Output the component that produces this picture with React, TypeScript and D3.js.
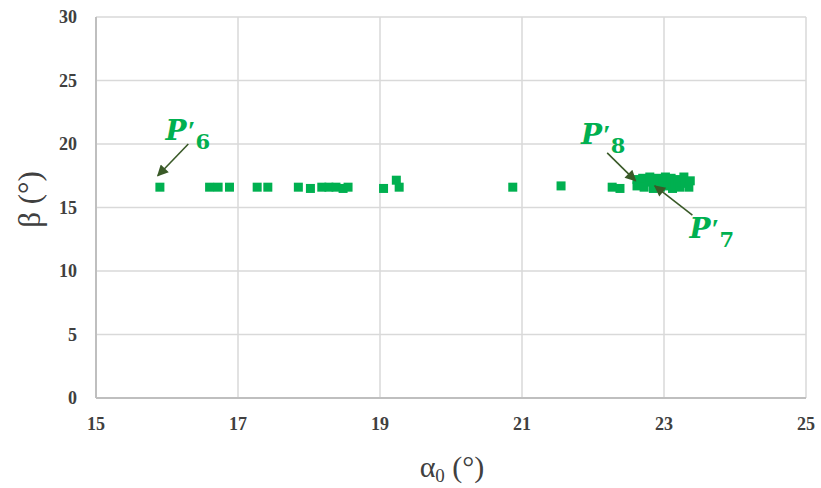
import React from "react";
import * as d3 from "d3";

const W = 821;
const H = 488;

const xTicks = [15, 17, 19, 21, 23, 25];
const yTicks = [0, 5, 10, 15, 20, 25, 30];

const alpha0 = [
  15.9, 16.6, 16.72, 16.88, 17.27, 17.42, 17.85, 18.02, 18.18, 18.28, 18.38, 18.48, 18.55,
  19.05, 19.23, 19.27, 20.87, 21.55, 22.27, 22.38,
  22.62, 22.62, 22.68, 22.7, 22.72, 22.78, 22.8, 22.85, 22.88, 22.92, 22.95, 22.98, 23.0,
  23.02, 23.05, 23.1, 23.12, 23.15, 23.2, 23.22, 23.25, 23.28, 23.3, 23.35, 23.37,
];
const beta = [
  16.6, 16.6, 16.6, 16.6, 16.6, 16.6, 16.6, 16.5, 16.6, 16.6, 16.6, 16.5, 16.6,
  16.5, 17.15, 16.6, 16.6, 16.7, 16.6, 16.5,
  17.2, 16.7, 16.9, 17.3, 16.6, 17.0, 17.4, 16.5, 16.9, 17.3, 16.6, 16.9, 17.1,
  17.4, 16.7, 17.3, 16.5, 16.9, 17.2, 16.6, 17.0, 17.4, 16.9, 16.6, 17.1,
];

type Ann = { name: string; sub: string; lx: number; ly: number; fx: number; fy: number; tx: number; ty: number };
const annotations: Ann[] = [
  { name: "P", sub: "6", lx: 15.98, ly: 20.3, fx: 16.3, fy: 20.0, tx: 15.87, ty: 17.5 },
  { name: "P", sub: "8", lx: 21.83, ly: 20.0, fx: 22.2, fy: 19.3, tx: 22.6, ty: 17.1 },
  { name: "P", sub: "7", lx: 23.36, ly: 12.6, fx: 23.4, fy: 14.4, tx: 22.87, ty: 16.7 },
];

const x = d3.scaleLinear().domain([15, 25]).range([96, 806]);
const y = d3.scaleLinear().domain([0, 30]).range([398, 17]);

const GREEN = "#00B050";
const ARROW = "#3A5A28";
const MS = 9;

export default function App() {
  const pts = alpha0.map((a, i) => ({ a, b: beta[i] }));
  return (
    <svg
      width={W}
      height={H}
      style={{ position: "absolute", left: 0, top: 0, background: "#fff" }}
    >
      <defs>
        <marker id="ah" viewBox="0 0 10 10" refX="9" refY="5" markerWidth="8" markerHeight="7" orient="auto">
          <path d="M0,0 L10,5 L0,10 z" fill={ARROW} />
        </marker>
      </defs>
      {yTicks.filter((t) => t > 0).map((t) => (
        <line key={"gy" + t} x1={x(15)} x2={x(25)} y1={y(t)} y2={y(t)} stroke="#d9d9d9" strokeWidth={1.5} />
      ))}
      {xTicks.filter((t) => t > 15).map((t) => (
        <line key={"gx" + t} x1={x(t)} x2={x(t)} y1={y(0)} y2={y(30)} stroke="#d9d9d9" strokeWidth={1.5} />
      ))}
      <line x1={x(15)} x2={x(15)} y1={y(0)} y2={y(30)} stroke="#bfbfbf" strokeWidth={2} />
      <line x1={x(15)} x2={x(25)} y1={y(0)} y2={y(0)} stroke="#bfbfbf" strokeWidth={2} />
      {yTicks.map((t) => (
        <text key={"ty" + t} x={77} y={y(t)} dy="0.35em" textAnchor="end"
          fontFamily="Liberation Serif" fontWeight="bold" fontSize={18} fill="#404040">{t}</text>
      ))}
      {xTicks.map((t) => (
        <text key={"tx" + t} x={x(t)} y={424} dy="0.35em" textAnchor="middle"
          fontFamily="Liberation Serif" fontWeight="bold" fontSize={18} fill="#404040">{t}</text>
      ))}
      <text x={0} y={0} transform={`translate(40,${y(15) - 8}) rotate(-90)`} textAnchor="middle"
        fontFamily="Liberation Serif" fontSize={31} fill="#404040">β (°)</text>
      <text x={452} y={477} textAnchor="middle" fontFamily="Liberation Serif" fontSize={30} fill="#404040">
        α<tspan fontSize={19} dy={5}>0</tspan><tspan dy={-5}> (°)</tspan>
      </text>
      {pts.map((p, i) => (
        <rect key={i} x={x(p.a) - MS / 2} y={y(p.b) - MS / 2} width={MS} height={MS} fill={GREEN} />
      ))}
      {annotations.map((an, i) => (
        <g key={"an" + i}>
          <line x1={x(an.fx)} y1={y(an.fy)} x2={x(an.tx)} y2={y(an.ty)} stroke={ARROW} strokeWidth={1.6} markerEnd="url(#ah)" />
          <text x={x(an.lx)} y={y(an.ly)} fontFamily="DejaVu Serif" fontWeight="bold" fontStyle="italic" fontSize={28} fill={GREEN}>
            {an.name}
            <tspan fontFamily="Liberation Serif" fontStyle="normal" fontSize={28} dx={1}>′</tspan>
            <tspan fontStyle="normal" fontSize={21} dy={9}>{an.sub}</tspan>
          </text>
        </g>
      ))}
    </svg>
  );
}
